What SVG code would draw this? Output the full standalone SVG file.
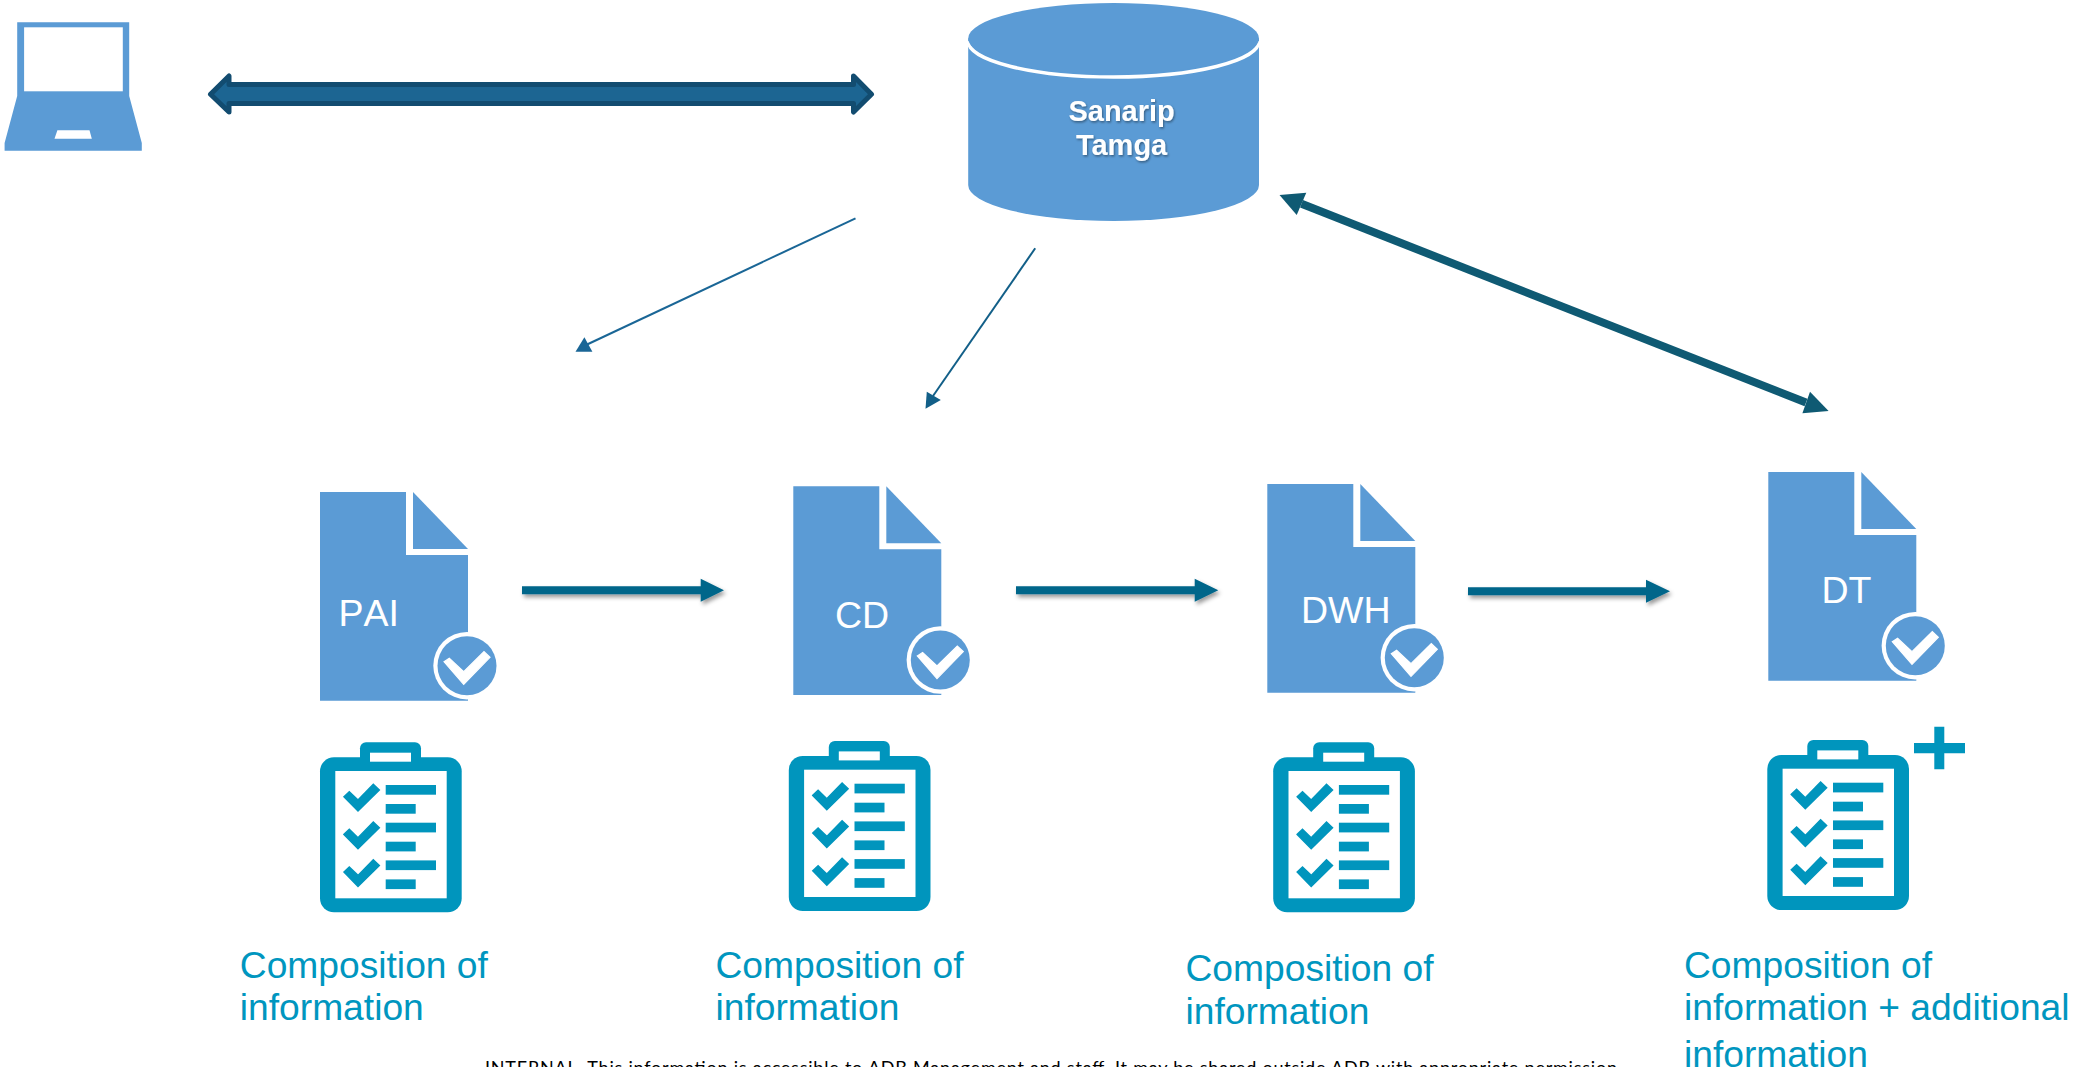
<svg xmlns="http://www.w3.org/2000/svg" xmlns:xlink="http://www.w3.org/1999/xlink" width="2079" height="1067" viewBox="0 0 2079 1067">
<style>
.blue{fill:#5b9bd5}
.wh{fill:#fff}
.wchk{fill:#fff;stroke:#fff;stroke-width:1.2}
.teal{fill:#0095bd}
.chk{fill:#0095bd;stroke:#0095bd;stroke-width:1.5}
.lab{font-family:"Liberation Sans",Arial,sans-serif;font-size:37.2px;fill:#0096bf}
.doc{font-family:"Liberation Sans",Arial,sans-serif;font-size:37.5px;fill:#fff;font-kerning:none}
.db{font-family:"Liberation Sans",Arial,sans-serif;font-size:29px;font-weight:bold;fill:#fff;text-anchor:middle;filter:url(#ts)}
.foot{font-family:Lato,"Liberation Sans",Arial,sans-serif;font-size:18px;fill:#000}
.flow{fill:#05668a;filter:url(#as)}
</style>
<defs>
<filter id="as" x="-10%" y="-60%" width="120%" height="220%"><feDropShadow dx="2" dy="3" stdDeviation="2" flood-color="#000" flood-opacity="0.4"/></filter>
<filter id="ts" x="-20%" y="-20%" width="140%" height="140%"><feDropShadow dx="1" dy="1.5" stdDeviation="1" flood-color="#000" flood-opacity="0.4"/></filter>
<g id="docIcon">
<polygon class="blue" points="0,0 86,0 86,63 148,63 148,208.7 0,208.7"/>
<polygon class="blue" points="93,0 148,57 93,57"/>
<circle class="wh" cx="147" cy="173.7" r="33.7"/>
<circle class="blue" cx="147" cy="173.7" r="29.5"/>
<polygon class="wchk" points="124,169.7 129.3,166.3 143.7,179.7 164,159.7 170,165.3 143.7,192.3"/>
</g>
<g id="clipIcon">
<rect class="teal" x="40" y="-15" width="61" height="24" rx="6"/>
<rect class="teal" x="0" y="0" width="141.7" height="155" rx="14"/>
<rect class="wh" x="50" y="-4.6" width="41" height="9"/>
<rect class="wh" x="15.3" y="13.7" width="111.4" height="127.3"/>
<g id="clipRow">
<polygon class="chk" points="24,39.4 29.3,34.4 38,42.7 53.3,27 59.3,32.7 38,53.7"/>
<rect class="teal" x="65.7" y="27.7" width="50.3" height="9.7"/>
<rect class="teal" x="65.7" y="46.7" width="30" height="9.7"/>
</g>
<use xlink:href="#clipRow" href="#clipRow" y="37.7"/>
<use xlink:href="#clipRow" href="#clipRow" y="75.4"/>
</g>
</defs>
<rect width="2079" height="1067" fill="#fff"/>

<g id="connectors">
<path id="conn-laptop-db" d="M210.5,94.3 L229,76 V84.5 H853.5 V76 L871.5,94.3 L853.5,112 V103.5 H229 V112 Z" fill="#1c6592" stroke="#124c70" stroke-width="5" stroke-linejoin="round"/>
<g id="conn-db-pai">
<line x1="855.5" y1="218.3" x2="586" y2="345" stroke="#1a6696" stroke-width="2"/>
<polygon points="575.5,351.7 584.4,337.3 592.4,351.7" fill="#1a6696"/>
</g>
<g id="conn-db-cd">
<line x1="1035.2" y1="248.3" x2="933" y2="396" stroke="#125f88" stroke-width="2"/>
<polygon points="925.5,408.7 926.8,391.7 940.8,400" fill="#125f88"/>
</g>
<g id="conn-db-dt" fill="#0f5a73">
<line x1="1301.5" y1="203.8" x2="1806" y2="402.5" stroke="#0f5a73" stroke-width="8"/>
<polygon points="1279.5,195 1306.3,192.7 1296.7,215"/>
<polygon points="1828.6,411 1810,391.7 1802.4,413.3"/>
</g>
<polygon id="conn-pai-cd" class="flow" points="522,586.3 700.7,586.3 700.7,578.8 724,590.3 700.7,601.8 700.7,594.3 522,594.3"/>
<polygon id="conn-cd-dwh" class="flow" points="1016,586.3 1194.7,586.3 1194.7,578.8 1218.3,590.3 1194.7,601.8 1194.7,594.3 1016,594.3"/>
<polygon id="conn-dwh-dt" class="flow" points="1468,587.3 1646,587.3 1646,579.8 1670,591.3 1646,602.8 1646,595.3 1468,595.3"/>
</g>

<g id="node-laptop">
<path class="blue" d="M17.2,22.3 H129.2 V96 L141.8,143 V150.7 H4.6 V143 L17.2,96 Z"/>
<rect class="wh" x="24.1" y="27.3" width="98.7" height="64"/>
<polygon class="wh" points="57.4,130.3 89.5,130.3 91.8,138.7 54.5,138.7"/>
</g>

<g id="node-sanarip-tamga">
<path class="blue" d="M968.2,38.5 V185 A145.4,36 0 0 0 1259,185 V38.5 Z"/>
<path d="M968.2,41 A145.4,36 0 0 0 1259,41" fill="none" stroke="#fff" stroke-width="3.5"/>
<ellipse class="blue" cx="1113.6" cy="38.5" rx="145.4" ry="35.5"/>
<text class="db" x="1121.6" y="121">Sanarip</text>
<text class="db" x="1121.6" y="155">Tamga</text>
</g>

<g id="node-pai">
<use xlink:href="#docIcon" href="#docIcon" x="320" y="492"/>
<text class="doc" x="338.5" y="625.7">PAI</text>
<use xlink:href="#clipIcon" href="#clipIcon" x="320" y="757.3"/>
<text class="lab" x="239.8" y="978">Composition of</text>
<text class="lab" x="239.8" y="1019.5">information</text>
</g>

<g id="node-cd">
<use xlink:href="#docIcon" href="#docIcon" x="793.3" y="486.3"/>
<text class="doc" x="835" y="627.7">CD</text>
<use xlink:href="#clipIcon" href="#clipIcon" x="788.8" y="756"/>
<text class="lab" x="715.5" y="977.5">Composition of</text>
<text class="lab" x="715.5" y="1020">information</text>
</g>

<g id="node-dwh">
<use xlink:href="#docIcon" href="#docIcon" x="1267.3" y="484"/>
<text class="doc" x="1301" y="622.7">DWH</text>
<use xlink:href="#clipIcon" href="#clipIcon" x="1273.2" y="757.3"/>
<text class="lab" x="1185.5" y="980.7">Composition of</text>
<text class="lab" x="1185.5" y="1024">information</text>
</g>

<g id="node-dt">
<use xlink:href="#docIcon" href="#docIcon" x="1768.3" y="472"/>
<text class="doc" x="1821.5" y="603">DT</text>
<use xlink:href="#clipIcon" href="#clipIcon" x="1767.3" y="755"/>
<path class="teal" d="M1934.3,726.7 H1944.3 V743 H1965 V753.3 H1944.3 V769.3 H1934.3 V753.3 H1914 V743 H1934.3 Z"/>
<text class="lab" x="1684" y="978">Composition of</text>
<text class="lab" x="1684" y="1020">information + additional</text>
<text class="lab" x="1684" y="1066.7">information</text>
</g>

<text class="foot" x="485" y="1074" textLength="1137" lengthAdjust="spacing">INTERNAL. This information is accessible to ADB Management and staff. It may be shared outside ADB with appropriate permission.</text>
</svg>
